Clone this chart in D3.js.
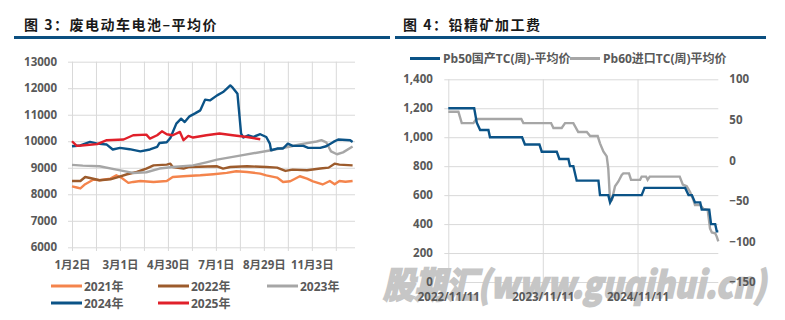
<!DOCTYPE html>
<html>
<head>
<meta charset="utf-8">
<script src="https://cdn.jsdelivr.net/npm/d3@7"></script>
<style>
  body { margin: 0; background: #fff; }
  svg { display: block; }
  .axis text { font-family: "Open Sans", "Noto Sans CJK SC", sans-serif; font-size: 11.5px; font-weight: 700; fill: #595959; }
  .axis line { stroke: #d9d9d9; stroke-width: 1; }
  .axis path { display: none; }
  .title { font-family: "Noto Sans CJK SC", sans-serif; font-size: 14px; font-weight: 700; fill: #1a1a1a; letter-spacing: 1.5px; }
  .legend text { font-family: "Open Sans", "Noto Sans CJK SC", sans-serif; font-size: 12px; font-weight: 700; fill: #595959; }
</style>
</head>
<body>
<svg width="785" height="320"></svg>
<script>
// ---- chart 3: waste EV battery average price, [trading-day index, value]
const xLabels3 = ["1月2日", "3月1日", "4月30日", "7月1日", "8月29日", "11月3日"];
const yTicks3 = [6000, 7000, 8000, 9000, 10000, 11000, 12000, 13000];
const years3 = ["2021年", "2022年", "2023年", "2024年", "2025年"];

const s2021 = [[0,8300],[4,8255],[7,8220],[11,8380],[18,8555],[23,8530],[32,8590],[37,8715],[41,8630],[47,8430],
  [51,8465],[57,8500],[68,8465],[79,8500],[84,8650],[96,8690],[107,8715],[118,8755],[129,8805],[137,8870],
  [146,8840],[157,8780],[162,8715],[171,8630],[176,8465],[182,8490],[190,8680],[196,8590],[201,8490],[209,8370],
  [215,8500],[219,8380],[223,8500],[228,8470],[234,8500]];
const s2022 = [[0,8500],[7,8500],[11,8650],[15,8615],[23,8530],[32,8565],[37,8630],[46,8755],[54,8840],[62,8970],
  [68,9090],[79,9120],[82,9155],[84,9030],[93,8970],[98,9030],[121,9055],[126,8970],[132,9030],[146,9055],
  [162,9030],[171,9005],[178,8880],[184,8930],[196,8905],[207,8970],[214,9005],[219,9155],[223,9120],[234,9090]];
const s2023 = [[0,9110],[9,9080],[23,9055],[37,8930],[51,8805],[62,8830],[73,8970],[84,9030],[101,9090],[112,9205],
  [121,9305],[140,9460],[166,9660],[182,9800],[190,9880],[204,9990],[208,10040],[212,9960],[216,9620],[221,9510],
  [226,9580],[234,9800]];
const s2024 = [[0,9810],[7,9840],[15,9975],[21,9910],[29,9875],[34,9690],[40,9750],[48,9700],[57,9620],[65,9690],
  [71,9785],[73,9935],[79,9960],[82,10120],[87,10665],[91,10850],[94,10725],[98,10940],[103,11060],[107,11165],
  [111,11570],[115,11540],[121,11730],[126,11855],[132,12105],[134,12020],[138,11790],[139,11290],[141,10290],
  [143,10140],[147,10225],[151,10160],[157,10265],[162,10160],[165,9910],[166,9660],[171,9725],[176,9725],
  [180,9910],[184,9825],[193,9825],[197,9750],[207,9750],[212,9810],[218,9975],[222,10065],[232,10040],[234,9975]];
const s2025 = [[0,10000],[4,9825],[8,9840],[21,9890],[29,10040],[43,10065],[51,10225],[62,10250],[65,10100],
  [71,10225],[75,10375],[79,10265],[84,10225],[90,10350],[93,10040],[97,10200],[101,10140],[112,10225],
  [123,10290],[134,10225],[146,10160],[157,10075]];
const series3 = [s2021, s2022, s2023, s2024, s2025];
const colors3 = ["#f4844c", "#9c5b2c", "#a6a6a6", "#0b5387", "#e0202a"];

// ---- chart 4: lead concentrate TC
const pb50 = [["2022-11-11",1200],["2023-02-19",1200],["2023-03-01",1100],["2023-03-14",1050],["2023-04-15",1050],
  ["2023-04-21",1000],["2023-08-23",1000],["2023-09-03",950],["2023-10-29",950],["2023-11-07",900],
  ["2024-01-04",900],["2024-01-14",850],["2024-02-18",850],["2024-02-24",800],["2024-03-08",800],
  ["2024-03-21",700],["2024-06-13",700],["2024-06-19",600],["2024-07-21",600],["2024-07-28",550],
  ["2024-08-10",600],["2024-11-27",600],["2024-12-08",650],["2025-05-14",650],["2025-05-27",600],
  ["2025-06-09",600],["2025-06-21",550],["2025-07-11",550],["2025-07-17",500],["2025-08-15",500],
  ["2025-08-22",400],["2025-09-07",400],["2025-09-13",350],["2025-09-19",350]];
const pb60 = [["2022-11-11",60],["2022-12-20",60],["2023-01-02",46],["2023-02-16",46],["2023-02-27",51],
  ["2023-08-20",51],["2023-08-28",46],["2023-12-13",46],["2023-12-22",40],["2024-01-23",40],["2024-02-05",46],
  ["2024-03-08",46],["2024-03-27",35],["2024-04-29",35],["2024-05-12",30],["2024-06-10",30],["2024-06-19",21],
  ["2024-07-02",11],["2024-07-15",5],["2024-07-21",-10],["2024-07-28",-51],["2024-08-04",-49],["2024-08-16",-32],
  ["2024-08-29",-26],["2024-09-11",-18],["2024-09-17",-16],["2024-10-09",-16],["2024-10-17",-24],
  ["2024-11-21",-24],["2024-11-27",-20],["2024-12-14",-20],["2024-12-20",-24],["2024-12-28",-20],
  ["2025-04-23",-20],["2025-05-05",-30],["2025-05-20",-32],["2025-06-02",-39],["2025-06-15",-49],
  ["2025-06-21",-55],["2025-07-11",-55],["2025-07-24",-60],["2025-08-09",-61],["2025-08-18",-84],
  ["2025-08-25",-89],["2025-09-07",-90],["2025-09-13",-94],["2025-09-19",-100]];
const xTicks4 = ["2022-11-11", "2023-11-11", "2024-11-11"];
const yTicks4 = [0, 200, 400, 600, 800, 1000, 1200, 1400];
const yTicks4R = [-150, -100, -50, 0, 50, 100];
const names4 = ["Pb50国产TC(周)-平均价", "Pb60进口TC(周)平均价"];
const colors4 = ["#0b5387", "#a6a6a6"];

const svg = d3.select("svg");
svg.append("rect").attr("width", 785).attr("height", 320).attr("fill", "#fff");

// titles + rules
svg.append("text").attr("class", "title").attr("x", 24).attr("y", 30).text("图 3：废电动车电池–平均价");
svg.append("text").attr("class", "title").attr("x", 403).attr("y", 30).text("图 4：铅精矿加工费");
svg.append("rect").attr("x", 14).attr("y", 36).attr("width", 376).attr("height", 3).attr("fill", "#0b4f80");
svg.append("rect").attr("x", 395).attr("y", 36).attr("width", 371).attr("height", 3).attr("fill", "#0b4f80");

// ===== chart 3 =====
const x3 = d3.scaleLinear().domain([0, 236]).range([72, 355]);
const y3 = d3.scaleLinear().domain([6000, 13000]).range([247.3, 61.7]);

svg.append("g").attr("class", "axis")
  .attr("transform", "translate(68,0)")
  .call(d3.axisLeft(y3).tickValues(yTicks3).tickSize(-(355 - 68)).tickPadding(11).tickFormat(d3.format("d")));

svg.append("g").attr("class", "axis")
  .attr("transform", "translate(0,251)")
  .call(d3.axisBottom(x3).tickValues(d3.range(0, 236, 20)).tickSize(-(251 - 61.7)).tickPadding(10)
    .tickFormat(i => (i % 40 === 0 ? xLabels3[i / 40] : "")));

const line3 = d3.line().x(d => x3(d[0])).y(d => y3(d[1]));
svg.append("g").selectAll("path")
  .data(series3)
  .enter()
  .append("path")
  .attr("d", line3)
  .attr("fill", "none")
  .attr("stroke", (d, i) => colors3[i])
  .attr("stroke-width", 2.4)
  .attr("stroke-linejoin", "round");

const leg3 = svg.append("g").attr("class", "legend");
const legPos3 = [[51, 286], [158, 286], [267, 286], [51, 303], [158, 303]];
years3.forEach(function (name, i) {
  const p = legPos3[i];
  leg3.append("line").attr("x1", p[0]).attr("x2", p[0] + 31).attr("y1", p[1]).attr("y2", p[1])
    .attr("stroke", colors3[i]).attr("stroke-width", 3);
  leg3.append("text").attr("x", p[0] + 33).attr("y", p[1] + 4.5).text(name);
});

// ===== chart 4 =====
const parse = d3.timeParse("%Y-%m-%d");
const x4 = d3.scaleTime().domain([parse("2022-11-11"), parse("2025-09-19")]).range([448.3, 718.3]);
const y4 = d3.scaleLinear().domain([0, 1400]).range([282, 79.3]);
const y4R = d3.scaleLinear().domain([-150, 100]).range([282, 79.3]);

svg.append("g").attr("class", "axis")
  .attr("transform", "translate(444.3,0)")
  .call(d3.axisLeft(y4).tickValues(yTicks4).tickSize(-(718.3 - 444.3)).tickPadding(11.5).tickFormat(d3.format(",")));

svg.append("g").attr("class", "axis")
  .attr("transform", "translate(0,282)")
  .call(d3.axisBottom(x4).tickValues(xTicks4.map(parse)).tickSize(-(282 - 79.3)).tickSizeOuter(0).tickFormat(d3.timeFormat("%Y/%m/%d")))
  .selectAll("text").remove();

const line4a = d3.line().x(d => x4(parse(d[0]))).y(d => y4(d[1]));
const line4b = d3.line().x(d => x4(parse(d[0]))).y(d => y4R(d[1]));
svg.append("path").attr("d", line4b(pb60)).attr("fill", "none").attr("stroke", colors4[1]).attr("stroke-width", 2.4);
svg.append("path").attr("d", line4a(pb50)).attr("fill", "none").attr("stroke", colors4[0]).attr("stroke-width", 2.4);

// watermark
svg.append("text")
  .attr("x", 383).attr("y", 298)
  .attr("textLength", 383).attr("lengthAdjust", "spacingAndGlyphs")
  .attr("font-family", "\"Noto Sans CJK SC\", sans-serif")
  .attr("font-size", 36).attr("font-weight", 900).attr("font-style", "italic")
  .attr("fill", "#c6c6c6").attr("stroke", "#c6c6c6").attr("stroke-width", 1.6)
  .text("股期汇(www.guqihui.cn)");

// axis labels for chart 4 drawn above the watermark
svg.append("g").attr("class", "axis")
  .attr("transform", "translate(0,282)")
  .call(d3.axisBottom(x4).tickValues(xTicks4.map(parse)).tickSize(0).tickPadding(11).tickFormat(d3.timeFormat("%Y/%m/%d")));

svg.append("g").attr("class", "axis")
  .attr("transform", "translate(444.3,0)")
  .call(d3.axisLeft(y4).tickValues([0]).tickSize(0).tickPadding(11.5));

svg.append("g").attr("class", "axis")
  .attr("transform", "translate(718.3,0)")
  .call(d3.axisRight(y4R).tickValues(yTicks4R).tickSize(0).tickPadding(11));

const leg4 = svg.append("g").attr("class", "legend");
const legPos4 = [[410, 58.5], [570, 58.5]];
names4.forEach(function (name, i) {
  const p = legPos4[i];
  leg4.append("line").attr("x1", p[0]).attr("x2", p[0] + 30).attr("y1", p[1]).attr("y2", p[1])
    .attr("stroke", colors4[i]).attr("stroke-width", 3);
  leg4.append("text").attr("x", p[0] + 33).attr("y", p[1] + 4.5).text(name);
});
</script>
</body>
</html>
